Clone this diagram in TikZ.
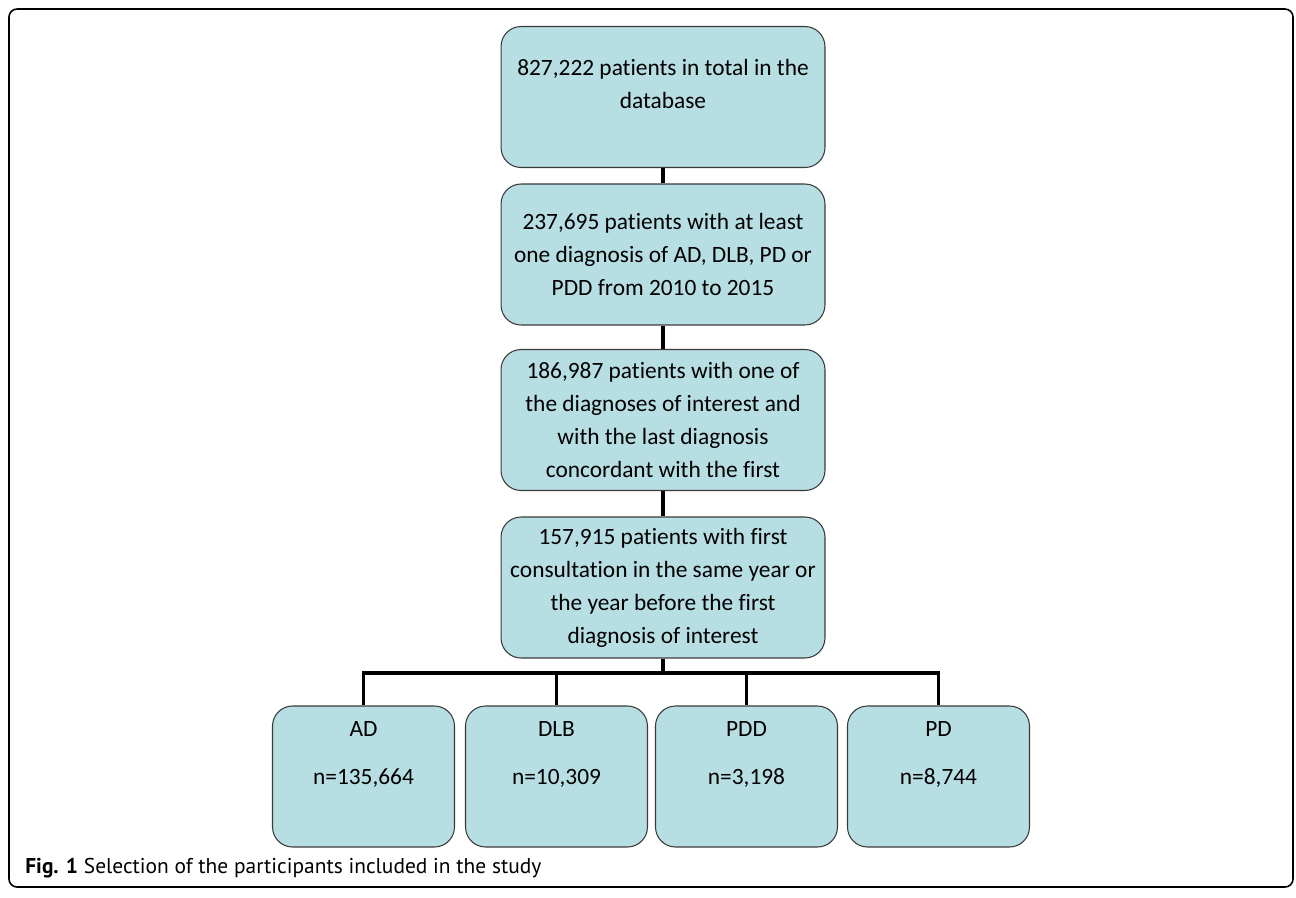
\documentclass[tikz,border=0pt]{standalone}
\usepackage{fontspec}
\setmainfont{Carlito}[Ligatures=NoCommon]
\newfontfamily\capfont{PT Sans}
\definecolor{boxfill}{HTML}{B7DEE2}
\definecolor{boxline}{HTML}{3A3A3A}
\begin{document}
\begin{tikzpicture}[x=0.02cm,y=-0.02cm,
        stage/.style={draw=boxline,fill=boxfill,line width=0.6pt,rounded corners=0.4cm,
            minimum width=6.48cm,minimum height=2.82cm,inner sep=0pt,align=center,
            font=\fontsize{13.3}{18.8}\selectfont},
        group/.style={stage,minimum width=3.64cm},
        link/.style={line width=1.9pt}]
    \useasboundingbox (0,0) rectangle (1296,897);
    \draw[line width=0.9pt,rounded corners=0.16cm] (9,9) rectangle (1293,887);
    % bước chọn lọc
    \path
    (663,97) node[stage] (s1) {827,222 patients in total in the\\database\\[-4pt]\mbox{}}
    (663,254.5) node[stage] (s2) {237,695 patients with at least\\one diagnosis of AD, DLB, PD or\\PDD from 2010 to 2015}
    (663,420) node[stage] (s3) {186,987 patients with one of\\the diagnoses of interest and\\with the last diagnosis\\concordant with the first}
    (663,587.5) node[stage] (s4) {157,915 patients with first\\consultation in the same year or\\the year before the first\\diagnosis of interest}
    ;
    % nhóm chẩn đoán
    \foreach \x/\n/\t/\v in {363.5/ad/AD/{135,664},556.5/dlb/DLB/{10,309},746.5/pdd/PDD/{3,198},938.5/pd/PD/{8,744}}
        \path (\x,776.5) node[group] (\n) {\t\\[8.5pt]n=\v\\[8.5pt]\mbox{}};
    \foreach \a/\b in {s1/s2,s2/s3,s3/s4} \draw[link] (\a)--(\b);
    \coordinate (split) at (663,673);
    \draw[link] (s4)--(split);
    \foreach \n in {ad,dlb,pdd,pd} \draw[link] (split)-|(\n.north);
    \node[anchor=west,inner sep=0pt,font=\capfont\fontsize{12.2}{14}\selectfont] (cap) at (25,868)
        {\textbf{Fig. 1} Selection of the participants included in the study};
\end{tikzpicture}
\end{document}
